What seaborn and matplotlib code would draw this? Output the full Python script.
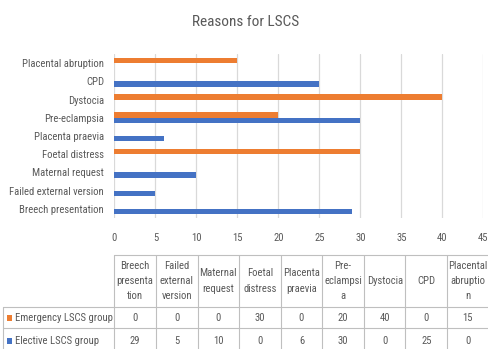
import matplotlib
matplotlib.use("Agg")
import matplotlib.pyplot as plt
from matplotlib.lines import Line2D
from matplotlib.patches import Rectangle
import pandas as pd
import seaborn as sns

# Indications for lower segment caesarean section, by group
reasons = ["Breech presentation", "Failed external version", "Maternal request",
           "Foetal distress", "Placenta praevia", "Pre-eclampsia", "Dystocia",
           "CPD", "Placental abruption"]
table_headers = ["Breech\npresenta\ntion", "Failed\nexternal\nversion", "Maternal\nrequest",
                 "Foetal\ndistress", "Placenta\npraevia", "Pre-\neclampsi\na", "Dystocia",
                 "CPD", "Placental\nabruptio\nn"]
emergency = [0, 0, 0, 30, 0, 20, 40, 0, 15]
elective = [29, 5, 10, 0, 6, 30, 0, 25, 0]
series_names = ["Emergency LSCS group", "Elective LSCS group"]
series_colors = ["#ED7D31", "#4472C4"]
x_ticks = [0, 5, 10, 15, 20, 25, 30, 35, 40, 45]
title = "Reasons for LSCS"

sns.set_theme(style="white")
plt.rcParams["font.family"] = ["Roboto Condensed", "Lato", "DejaVu Sans"]
TEXT = "#595959"
GRID = "#D9D9D9"
LINE = "#BFBFBF"
FS = 7.7

W, H = 489, 349
fig = plt.figure(figsize=(W / 100, H / 100), dpi=100)


def fx(px):
    return px / W


def fy(py):
    return 1 - py / H


df = pd.DataFrame({
    "reason": reasons * 2,
    "value": emergency + elective,
    "group": [series_names[0]] * len(reasons) + [series_names[1]] * len(reasons),
})

ax = fig.add_axes([fx(114.5), fy(218), fx(483.3) - fx(114.5), fy(54) - fy(218)])
sns.barplot(data=df, y="reason", x="value", hue="group", order=reasons[::-1],
            hue_order=series_names, palette=series_colors, orient="h",
            width=0.58, gap=0, linewidth=0, saturation=1, legend=False, ax=ax)
ax.set_xlim(x_ticks[0], x_ticks[-1])
ax.set_xticks(x_ticks)
ax.xaxis.grid(True, color=GRID, linewidth=0.9)
ax.yaxis.grid(False)
ax.set_axisbelow(True)
for s in ax.spines.values():
    s.set_visible(False)
ax.set_xlabel("")
ax.set_ylabel("")
ax.tick_params(axis="x", length=0, pad=10.5, labelsize=FS, labelcolor=TEXT)
ax.tick_params(axis="y", length=0, pad=7.5, labelsize=FS, labelcolor=TEXT)

fig.text(fx(246), fy(22), title, ha="center", va="center", fontsize=11, color=TEXT)

# Data table beneath the chart
col_left, col_w = 114.3, 41.6
ncol = len(reasons)
col_edges = [col_left + i * col_w for i in range(ncol + 1)]
y_head_top, y_row1, y_row2, y_bottom = 255, 306.7, 328.3, 352
lk = dict(color=LINE, linewidth=0.8, transform=fig.transFigure)
fig.add_artist(Line2D([fx(col_edges[0]), fx(col_edges[-1])], [fy(y_head_top)] * 2, **lk))
for yy in (y_row1, y_row2):
    fig.add_artist(Line2D([fx(3.3), fx(col_edges[-1])], [fy(yy)] * 2, **lk))
for xe in col_edges:
    fig.add_artist(Line2D([fx(xe)] * 2, [fy(y_head_top), fy(y_bottom)], **lk))
fig.add_artist(Line2D([fx(3.3)] * 2, [fy(y_row1), fy(y_bottom)], **lk))

for i, hdr in enumerate(table_headers):
    cx = col_edges[i] + col_w / 2
    fig.text(fx(cx), fy(281), hdr, ha="center", va="center", multialignment="center",
             fontsize=FS, color=TEXT, linespacing=1.65)
    fig.text(fx(cx), fy(317.7), str(emergency[i]), ha="center", va="center",
             fontsize=FS, color=TEXT)
    fig.text(fx(cx), fy(340.7), str(elective[i]), ha="center", va="center",
             fontsize=FS, color=TEXT)

for name, color, yc in zip(series_names, series_colors, (317.7, 340.7)):
    fig.add_artist(Rectangle((fx(6.7), fy(yc + 2.8)), fx(5.6), fy(0) - fy(5.6),
                             facecolor=color, edgecolor="none", transform=fig.transFigure))
    fig.text(fx(15), fy(yc), name, ha="left", va="center", fontsize=FS, color=TEXT)

fig.savefig("out.png", dpi=100)
